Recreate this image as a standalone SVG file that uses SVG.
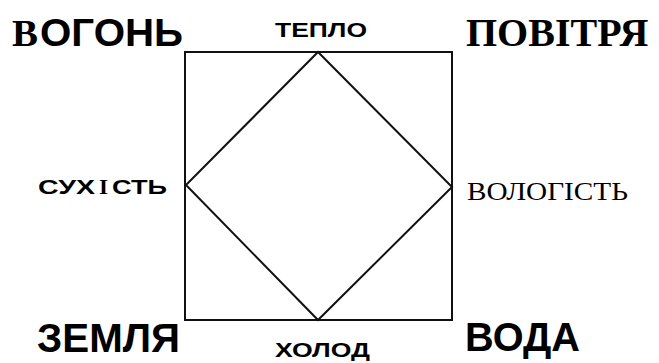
<svg xmlns="http://www.w3.org/2000/svg" width="659" height="363" viewBox="0 0 659 363">
<style>
.ln{fill:none;stroke:#111;stroke-width:2}
.sb{font-family:"Liberation Sans",Arial,sans-serif;font-weight:bold;fill:#000}
.sr{font-family:"Liberation Serif","Times New Roman",serif;fill:#000}
.srb{font-family:"Liberation Serif","Times New Roman",serif;font-weight:bold;fill:#000}
</style>
<rect width="659" height="363" fill="#fff"/>
<g id="connectors">
<rect class="ln" x="185" y="52" width="267" height="268"/>
<polygon class="ln" points="318,52 452,187 318,320 186,185"/>
</g>
<g id="vogon"><text class="srb" x="12" y="46" font-size="38" textLength="26" lengthAdjust="spacingAndGlyphs">В</text><text class="sb" x="40" y="46" font-size="38" textLength="143" lengthAdjust="spacingAndGlyphs">ОГОНЬ</text></g>
<g id="teplo"><text class="sb" x="275" y="37" font-size="20" textLength="92" lengthAdjust="spacingAndGlyphs">ТЕПЛО</text></g>
<g id="povitria"><text class="srb" x="466" y="46" font-size="40">ПОВІТРЯ</text></g>
<g id="sukhist"><text class="sb" x="38" y="194" font-size="21" textLength="57" lengthAdjust="spacingAndGlyphs">СУХ</text><text class="srb" x="99" y="194" font-size="22" textLength="9" lengthAdjust="spacingAndGlyphs">І</text><text class="sb" x="112" y="194" font-size="21" textLength="55" lengthAdjust="spacingAndGlyphs">СТЬ</text></g>
<g id="volohist"><text class="sr" x="467" y="200" font-size="26" textLength="161" lengthAdjust="spacingAndGlyphs">ВОЛОГІСТЬ</text></g>
<g id="zemlia"><text class="sb" x="37" y="352" font-size="40" textLength="143" lengthAdjust="spacingAndGlyphs">ЗЕМЛЯ</text></g>
<g id="voda"><text class="sb" x="465" y="351" font-size="40" textLength="115" lengthAdjust="spacingAndGlyphs">ВОДА</text></g>
<g id="kholod"><text class="sb" x="275" y="357" font-size="20" textLength="95" lengthAdjust="spacingAndGlyphs">ХОЛОД</text></g>
</svg>
